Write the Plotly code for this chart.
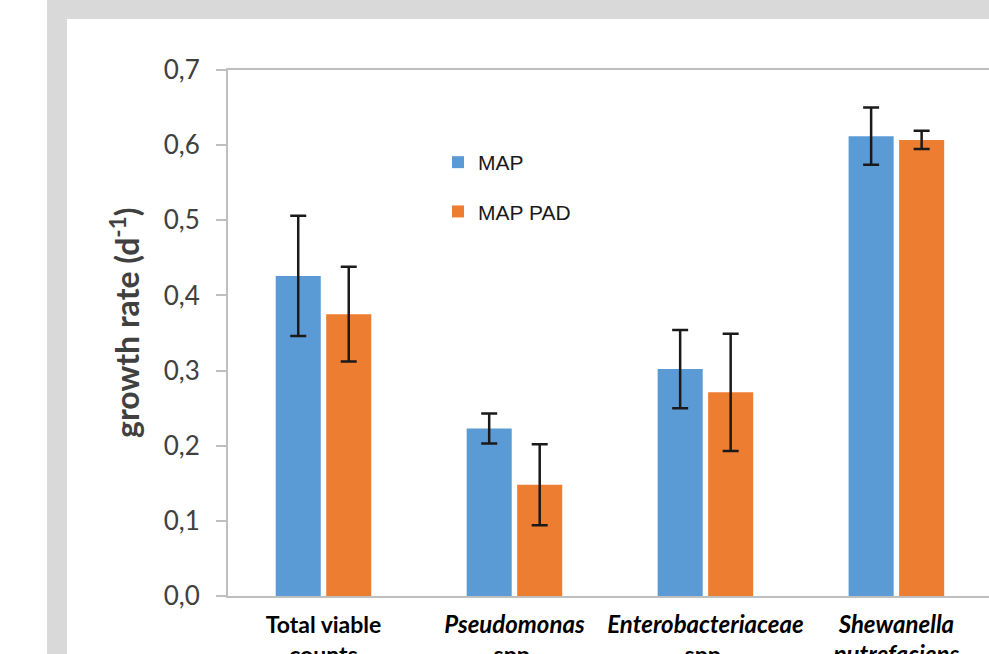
import plotly.graph_objects as go

categories = [
    "<b>Total viable</b><br><b>counts</b>",
    "<b><i><span style='font-size:24px'>Pseudomonas</span></i></b><br><b>spp.</b>",
    "<b><i><span style='font-size:24px'>Enterobacteriaceae</span></i></b><br><b>spp.</b>",
    "<b><i><span style='font-size:24px'>Shewanella</span></i></b><br><b><i><span style='font-size:24px'>putrefaciens</span></i></b>",
]
map_values = [0.426, 0.223, 0.302, 0.612]
map_errors = [0.080, 0.020, 0.052, 0.038]
mappad_values = [0.375, 0.148, 0.271, 0.607]
mappad_errors = [0.063, 0.054, 0.078, 0.012]
y_ticks = [0.0, 0.1, 0.2, 0.3, 0.4, 0.5, 0.6, 0.7]
y_ticklabels = ["0,0", "0,1", "0,2", "0,3", "0,4", "0,5", "0,6", "0,7"]

W, H = 989, 654
px_x = lambda p: p / W
px_y = lambda p: 1 - p / H

err_style = dict(type="data", visible=True, color="#1a1a1a", thickness=2.5, width=8)

fig = go.Figure()
fig.add_trace(go.Bar(
    name="MAP", x=categories, y=map_values, legendgroup="a",
    marker=dict(color="#5B9BD5", line=dict(width=0)),
    error_y=dict(array=map_errors, **err_style),
))
fig.add_trace(go.Bar(
    name="MAP PAD", x=categories, y=mappad_values, legendgroup="b",
    marker=dict(color="#ED7D31", line=dict(width=0)),
    error_y=dict(array=mappad_errors, **err_style),
))

fig.update_layout(
    width=W, height=H,
    margin=dict(l=0, r=0, t=0, b=0),
    paper_bgcolor="white", plot_bgcolor="white",
    barmode="group", bargap=0.471, bargroupgap=0.108,
    showlegend=True,
    legend=dict(
        x=px_x(438), y=px_y(142), xanchor="left", yanchor="top",
        font=dict(family="Liberation Sans", size=21, color="#1a1a1a"),
        bgcolor="rgba(0,0,0,0)", tracegroupgap=19,
    ),
    xaxis=dict(
        domain=[px_x(228), 1.0], range=[-0.5, 3.485],
        showline=True, linecolor="#bfbfbf", linewidth=2, mirror=True,
        ticks="", showgrid=False, automargin=False,
        tickfont=dict(family="Lato", size=23, color="black"),
        ticklabelstandoff=7,
    ),
    yaxis=dict(
        domain=[1 - 596 / H, 1 - 70 / H], range=[0, 0.7],
        tickvals=y_ticks, ticktext=y_ticklabels,
        showline=True, linecolor="#bfbfbf", linewidth=2, mirror=True,
        ticks="outside", ticklen=10, tickcolor="#bfbfbf", tickwidth=2,
        showgrid=False, zeroline=False, automargin=False,
        tickfont=dict(family="Lato", size=26, color="#404040"),
        ticklabelstandoff=11,
    ),
    annotations=[dict(
        text="<b>growth rate (d<sup>-1</sup>)</b>",
        x=px_x(125), y=px_y(323), xref="paper", yref="paper",
        xanchor="center", yanchor="middle", textangle=-90, showarrow=False,
        font=dict(family="Lato", size=32, color="#404040"),
    )],
    shapes=[
        dict(type="rect", xref="paper", yref="paper", x0=px_x(47), x1=px_x(67), y0=0, y1=1,
             fillcolor="#d9d9d9", line=dict(width=0), layer="below"),
        dict(type="rect", xref="paper", yref="paper", x0=px_x(47), x1=1, y0=px_y(19), y1=1,
             fillcolor="#d9d9d9", line=dict(width=0), layer="below"),
    ],
)

fig.write_html("out.html")
